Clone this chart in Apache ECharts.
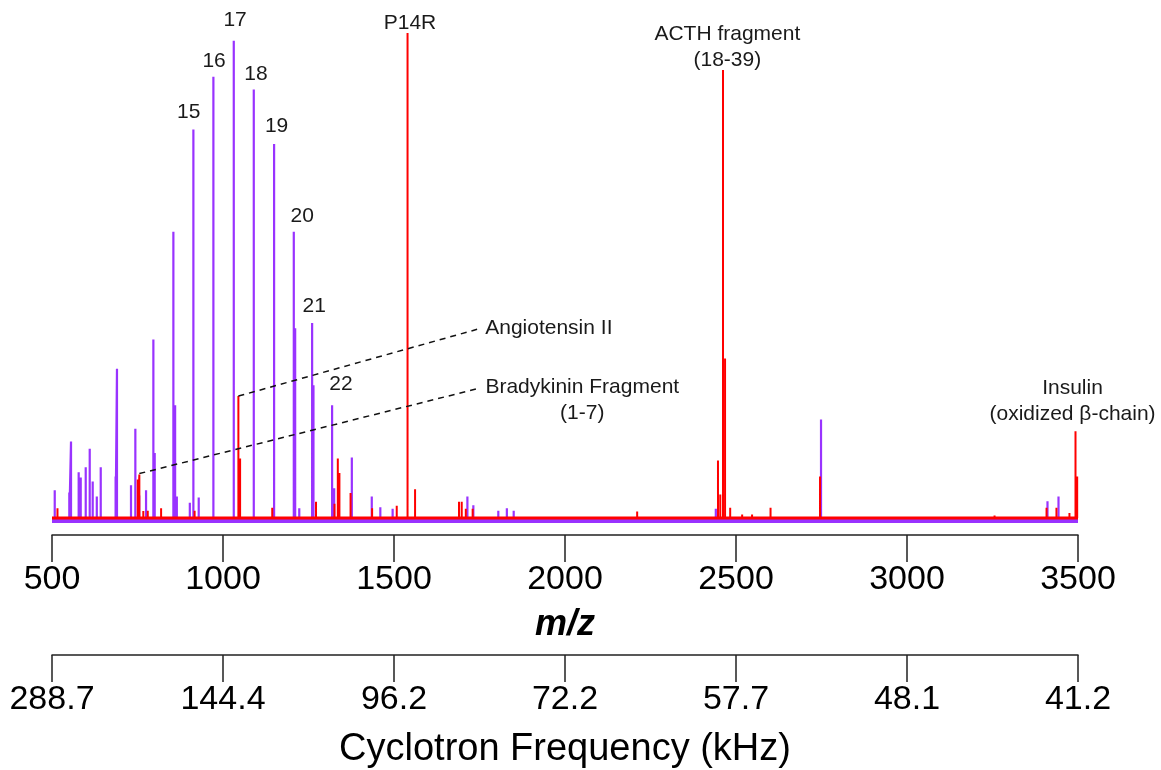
<!DOCTYPE html>
<html><head><meta charset="utf-8">
<script src="https://cdn.jsdelivr.net/npm/echarts@6/dist/echarts.min.js"></script>
<style>html,body{margin:0;padding:0;background:#fff}#c{width:1161px;height:770px}</style>
</head><body><div id="c"></div>
<script>
// ---- data ----
const mzTicks = [500, 1000, 1500, 2000, 2500, 3000, 3500];
const freqLabels = ['288.7', '144.4', '96.2', '72.2', '57.7', '48.1', '41.2'];

const purpleMz  = [508, 550.6, 555.6, 578, 584, 598.6, 610.3, 619, 631, 642.5, 686, 690, 731, 743.7, 755, 775, 796.4, 800.3, 854.9, 860, 865, 903, 913.4, 929, 971.9, 1031.5, 1090, 1149.4, 1207, 1211, 1223, 1260.6, 1264.5, 1319, 1325, 1376.7, 1435, 1460, 1496, 1714.6, 1732, 1805, 1830, 1850, 2441, 2748.6, 3410.8, 3443];
const purpleInt = [6.2, 5.7, 16.2, 9.9, 8.8, 10.9, 14.7, 8.0, 4.9, 10.9, 9.0, 31.1, 7.2, 18.8, 5.1, 6.2, 37.1, 13.8, 59.2, 23.6, 4.9, 3.6, 80.2, 4.7, 91.0, 98.4, 88.4, 77.2, 59.2, 39.4, 2.5, 40.5, 27.7, 23.6, 6.6, 12.9, 4.9, 2.7, 2.4, 4.9, 3.1, 2.0, 2.5, 2.0, 2.4, 20.7, 3.9, 4.9];

const redMz  = [516, 750.7, 755.4, 767, 780, 819, 917, 1045, 1050, 1144, 1272, 1326, 1335.7, 1340.4, 1373, 1436, 1508, 1539.6, 1561.6, 1690, 1698, 1710, 1730, 2211, 2447.3, 2454, 2462, 2468, 2483, 2518, 2547, 2601, 2745.7, 3256, 3408, 3437, 3475, 3492.7, 3497.6];
const redInt = [2.5, 8.4, 9.4, 1.9, 2.0, 2.5, 2.0, 25.5, 12.7, 2.6, 3.8, 3.4, 12.7, 9.7, 5.6, 2.5, 3.0, 100, 6.4, 3.8, 3.8, 2.4, 2.4, 1.8, 12.3, 5.3, 92.4, 33.2, 2.6, 1.2, 1.2, 2.6, 9.0, 1.0, 2.6, 2.6, 1.5, 18.3, 9.0];

const purpleBase = 0.0;
const redBase = 0.5;

const peakLabels = ['15', '16', '17', '18', '19', '20', '21', '22'];
const compoundLabels = ['P14R', 'ACTH fragment\n(18-39)', 'Angiotensin II', 'Bradykinin Fragment\n(1-7)', 'Insulin\n(oxidized \u03b2-chain)'];

// ---- build stick spectra ----
function sticks(mz, inten, base) {
  const idx = mz.map((_, i) => i).sort((a, b) => mz[a] - mz[b]);
  const out = [[mzTicks[0], base]];
  idx.forEach(i => { out.push([mz[i], base], [mz[i], inten[i]], [mz[i], base]); });
  out.push([mzTicks[mzTicks.length - 1], base]);
  return out;
}

const PURPLE = '#9933ff';
const RED = '#ff0000';
const FONT = '"Liberation Sans", Arial, sans-serif';

const chart = echarts.init(document.getElementById('c'), null, {renderer: 'canvas'});

const axisCommon = {
  type: 'value', min: mzTicks[0], max: mzTicks[mzTicks.length - 1], interval: 500,
  position: 'bottom', gridIndex: 0,
  axisLine: {show: true, onZero: false, lineStyle: {color: '#222', width: 1.5}},
  axisTick: {show: true, inside: false, length: 27, lineStyle: {color: '#222', width: 1.5}},
  splitLine: {show: false},
  nameLocation: 'middle'
};

const option = {
  animation: false,
  backgroundColor: '#fff',
  grid: {left: 52, right: 83, top: 33, bottom: 235, containLabel: false, outerBoundsMode: 'none'},
  xAxis: [
    Object.assign({}, axisCommon, {
      axisLabel: {fontSize: 34, fontFamily: FONT, color: '#000', margin: 28,
        formatter: v => String(v)},
      name: 'm/z', nameGap: 72,
      nameTextStyle: {fontSize: 36, fontFamily: FONT, fontWeight: 'bold', fontStyle: 'italic', color: '#000'}
    }),
    Object.assign({}, axisCommon, {
      offset: 120,
      axisLabel: {fontSize: 34, fontFamily: FONT, color: '#000', margin: 28,
        formatter: v => freqLabels[mzTicks.indexOf(v)] || ''},
      name: 'Cyclotron Frequency (kHz)', nameGap: 76,
      nameTextStyle: {fontSize: 38, fontFamily: FONT, color: '#000'}
    })
  ],
  yAxis: {type: 'value', min: -3, max: 100, show: false, splitLine: {show: false}},
  series: [
    {type: 'line', name: 'baseP', data: [[mzTicks[0], purpleBase], [mzTicks[6], purpleBase]], symbol: 'none',
      lineStyle: {color: PURPLE, width: 5}, silent: true, z: 1},
    {type: 'line', name: 'purple', data: sticks(purpleMz, purpleInt, purpleBase), symbol: 'none',
      lineStyle: {color: PURPLE, width: 2.2, join: 'miter'}, silent: true, z: 2},
    {type: 'line', name: 'baseR', data: [[mzTicks[0], redBase], [mzTicks[6], redBase]], symbol: 'none',
      lineStyle: {color: RED, width: 3}, silent: true, z: 3},
    {type: 'line', name: 'red', data: sticks(redMz, redInt, redBase), symbol: 'none',
      lineStyle: {color: RED, width: 2, join: 'miter'}, silent: true, z: 4,
      markLine: {
        silent: true, symbol: 'none', label: {show: false},
        lineStyle: {color: '#111', width: 1.5, type: [6, 5]},
        data: [
          [{coord: [1045, 25.5]}, {coord: [1743, 39.2]}],
          [{coord: [755.4, 9.6]}, {coord: [1743, 27.0]}]
        ]
      }}
  ]
};
chart.setOption(option);

// ---- annotation text placed at data coordinates ----
const annot = [
  {t: peakLabels[0], at: [899.9, 83.7]},
  {t: peakLabels[1], at: [973.9, 94.3]},
  {t: peakLabels[2], at: [1035.3, 102.7]},
  {t: peakLabels[3], at: [1096.2, 91.6]},
  {t: peakLabels[4], at: [1156.7, 80.9]},
  {t: peakLabels[5], at: [1231.4, 62.5]},
  {t: peakLabels[6], at: [1266.5, 44.0]},
  {t: peakLabels[7], at: [1344.8, 27.9]},
  {t: compoundLabels[0], at: [1546.7, 102.1]},
  {t: compoundLabels[1], at: [2474.6, 97.1]},
  {t: compoundLabels[2], at: [1766.7, 39.4], align: 'left'},
  {t: compoundLabels[3], at: [2050.5, 24.6]},
  {t: compoundLabels[4], at: [3484, 24.4]}
];
const graphics = annot.map(a => {
  const p = chart.convertToPixel({xAxisIndex: 0, yAxisIndex: 0}, a.at);
  return {type: 'text', x: p[0], y: p[1], silent: true, z: 10,
    style: {text: a.t, font: '21px ' + FONT, fill: '#1a1a1a', align: a.align || 'center',
      verticalAlign: 'middle', lineHeight: 26}};
});
chart.setOption({graphic: graphics});
</script>
</body></html>
